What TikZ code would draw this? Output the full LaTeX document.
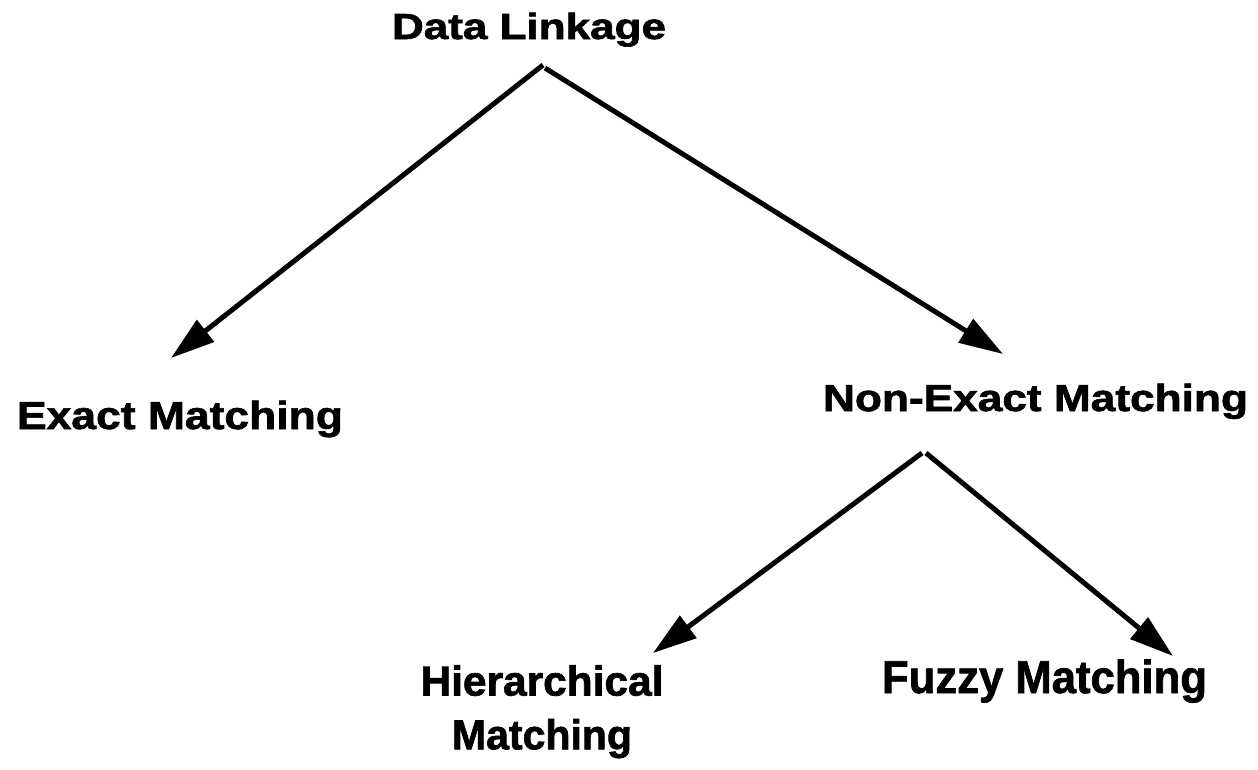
\documentclass[tikz,border=0pt]{standalone}
\usepackage{fontspec}
\setmainfont{Liberation Sans}[BoldFeatures={FakeBold=1.6}]
\usetikzlibrary{arrows.meta}
% a bold label at a given font size (pt), stretched to a given width (pt)
\newcommand\lbl[3]{\resizebox{#1pt}{\height}{\fontsize{#2}{#2}\selectfont\bfseries #3}}
\begin{document}
\begin{tikzpicture}[x=1pt,y=-1pt,
  lab/.style={inner sep=0pt, outer sep=0pt, anchor=base west},
  link/.style={line width=5pt, -{Triangle[length=44pt,width=27pt]}}]
\useasboundingbox (0,0) rectangle (1258,769);
\fill[white] (0,0) rectangle (1258,769);

% labels
\node[lab] (dl)  at (392,39)  {\lbl{274}{36.3}{Data Linkage}};
\node[lab] (em)  at (17,429)  {\lbl{326}{39.1}{Exact Matching}};
\node[lab] (nem) at (823,411) {\lbl{425}{37.7}{Non-Exact Matching}};
\node[inner sep=0pt, anchor=north, align=center, font=\fontsize{10}{12}\selectfont]
     (hm) at (542,665) {\lbl{243}{41.9}{Hierarchical}\\[22pt]\lbl{180}{41.9}{Matching}};
\node[lab] (fm)  at (882,693) {\lbl{325}{46.1}{Fuzzy Matching}};

% connector ends
\coordinate (dl-l)  at (543,65);
\coordinate (dl-r)  at (545,68);
\coordinate (em-in) at (171,358);
\coordinate (nem-in) at (1003,354);
\coordinate (nem-l) at (922,453);
\coordinate (nem-r) at (926,453);
\coordinate (hm-in) at (653,653);
\coordinate (fm-in) at (1173,656);

% connectors
\draw[link] (dl-l) -- (em-in);
\draw[link] (dl-r) -- (nem-in);
\draw[link] (nem-l) -- (hm-in);
\draw[link] (nem-r) -- (fm-in);
\end{tikzpicture}
\end{document}
